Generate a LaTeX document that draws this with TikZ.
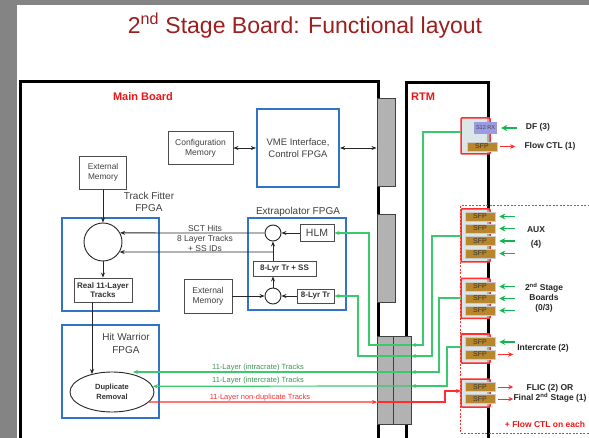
\documentclass[tikz,border=0pt]{standalone}
\usepackage{fontspec}
\setmainfont{Liberation Sans}
\usetikzlibrary{arrows.meta,shapes.geometric,calc}
\definecolor{bgg}{RGB}{132,132,132}
\definecolor{ttl}{RGB}{158,30,30}
\definecolor{rlab}{RGB}{240,20,20}
\definecolor{fblue}{RGB}{46,117,198}
\definecolor{gln}{RGB}{60,200,110}
\definecolor{gar}{RGB}{20,180,80}
\definecolor{gtx}{RGB}{60,150,85}
\definecolor{rln}{RGB}{255,45,45}
\definecolor{sfpc}{RGB}{184,134,45}
\definecolor{s12c}{RGB}{155,155,226}
\definecolor{grpf}{RGB}{212,224,224}
\definecolor{conn}{RGB}{178,178,178}
\definecolor{dtx}{RGB}{64,64,64}
\newcommand\fsz[2]{\fontsize{#1}{#2}\selectfont}
\tikzset{
  gbox/.style={draw=black!70, line width=0.9pt, fill=white, inner sep=0pt, align=center, text=dtx},
  fbox/.style={draw=fblue, line width=2.2pt, inner sep=0pt, align=center, text=dtx},
  ring/.style={circle, draw=black!85, line width=0.9pt, fill=white, inner sep=0pt},
  bbox/.style={gbox, font=\fsz{8}{9.5}\bfseries, text=black!80},
  connb/.style={draw=black!75, fill=conn, line width=1pt, inner sep=0pt},
  arr/.style={->, line width=0.8pt, draw=black!85},
  gl/.style={draw=gln, line width=1.2pt},
  rl/.style={draw=rln, line width=1.2pt},
  grp/.style={draw=rln, line width=1.5pt, fill=grpf, fill opacity=0.8, rounded corners=1pt, inner sep=0pt, minimum width=29pt},
  sfp/.style={fill=sfpc, draw=black!20, line width=0.6pt, minimum width=30pt, minimum height=9pt, inner sep=0pt, font=\fsz{7}{8}, text=black!80},
  garr/.style={-{Stealth[length=6pt,width=6pt]}, line width=1.6pt, draw=gar},
  rarr/.style={-{Stealth[length=5pt,width=4.5pt]}, line width=0.9pt, draw=rln},
  rtlab/.style={font=\fsz{8.5}{10}\bfseries, text=black!85, align=center},
}
\begin{document}
\begin{tikzpicture}[x=1pt,y=-1pt,>={Stealth[length=5pt,width=4pt]}]
\fill[bgg] (0,0) rectangle (589,438);
\fill[white] (17,5) rectangle (589,438);
\useasboundingbox (0,0) rectangle (589,438);
\clip (0,0) rectangle (589,438);

% title
\node[text=ttl, font=\fsz{23}{26}] (title) at (305,26) {2\textsuperscript{nd} Stage Board: Functional layout};

% boards
\draw[line width=3pt, line join=miter] (20,440) -- (20,81.5) -- (378,81.5) -- (378,440);
\draw[line width=3pt, line join=miter] (406,440) -- (406,82.5) -- (488,82.5) -- (488,440);
\node[font=\fsz{11}{13}\bfseries, text=rlab] (mb) at (143,97) {Main Board};
\node[font=\fsz{11}{13}\bfseries, text=rlab] (rtm) at (423,97) {RTM};

% backplane connectors
\node[connb, minimum width=18pt, minimum height=88pt] (b1) at (386,143) {};
\node[connb, minimum width=18pt, minimum height=88pt] (b2) at (386,259) {};
\node[connb, minimum width=34pt, minimum height=88pt] (b3) at (394,380) {};
\draw[draw=black!75, line width=1pt] ($(b3.north)+(-1,0)$) -- ($(b3.south)+(-1,0)$);

% config + VME
\node[gbox, minimum width=65pt, minimum height=33pt, font=\fsz{8.5}{10}] (cfg) at (200.5,148) {Configuration\\Memory};
\node[fbox, minimum width=82pt, minimum height=78pt, font=\fsz{9.5}{11.5}] (vme) at (298,148) {VME Interface,\\Control FPGA};
\draw[arr,<->] (cfg) -- (vme);
\draw[arr,<->] (vme.east) -- (vme.east -| b1.west);

% track fitter
\node[gbox, minimum width=47pt, minimum height=33pt, font=\fsz{8.3}{10}] (em1) at (103,172.5) {External\\Memory};
\node[font=\fsz{10}{12}, text=dtx, align=center] (tfl) at (149,202) {Track Fitter\\FPGA};
\node[fbox, minimum width=97pt, minimum height=93pt] (tf) at (110.5,264.5) {};
\node[ring, minimum size=38pt] (tfc) at (103,242) {};
\node[bbox, minimum width=58pt, minimum height=24pt] (real) at (103,290) {Real 11-Layer\\Tracks};
\draw[arr] (em1) -- (tfc);
\draw[arr] (tfc) -- (real);

% extrapolator
\node[fbox, minimum width=98pt, minimum height=92pt] (ext) at (297,264) {};
\node[anchor=south, font=\fsz{10}{12}, text=dtx, inner sep=0pt] (extl) at (298,216.5) {Extrapolator FPGA};
\node[ring, minimum size=16pt] (c1) at (273,233) {};
\node[ring, minimum size=16pt] (c2) at (273,296) {};
\node[gbox, minimum width=34pt, minimum height=17pt, font=\fsz{10.5}{12}] (hlm) at (317,233) {HLM};
\node[bbox, minimum width=63pt, minimum height=15pt] (ss) at (284.5,268.5) {8-Lyr Tr + SS};
\node[bbox, minimum width=37pt, minimum height=14pt] (l8) at (315.5,296) {8-Lyr Tr};
\node[gbox, minimum width=48pt, minimum height=34pt, font=\fsz{8.5}{10}] (em2) at (208,296) {External\\Memory};
\draw[arr] (hlm) -- (c1);
\draw[arr] (l8) -- (c2);
\draw[arr] (em2) -- (c2);
\draw[arr] (c2.north) -- (c2.north |- ss.south);
\draw[arr] (ss.north -| c1.south) -- (c1.south);
\coordinate (jn) at (273,252);
\draw[arr] (c1.west) -- (tfc.28.3);
\draw[arr] (jn) -- (tfc.-31.8);
\node[font=\fsz{8.5}{10}, text=dtx, align=center] (sct) at (205,238) {SCT Hits\\8 Layer Tracks\\+ SS IDs};

% hit warrior
\node[fbox, minimum width=97pt, minimum height=93pt] (hw) at (110.5,371.5) {};
\node[font=\fsz{10}{12.5}, text=dtx, align=center] (hwl) at (126,343.5) {Hit Warrior\\FPGA};
\node[ellipse, draw=black!85, line width=0.9pt, fill=white, minimum width=84pt, minimum height=40pt, inner sep=0pt, font=\fsz{7.5}{10}\bfseries, text=black!80, align=center] (dup) at (112,392) {Duplicate\\Removal};
\coordinate (hwin) at (92,374);
\draw[arr] (real.south -| hwin) -- (hwin);

% RTM groups
\node[grp, minimum height=36pt] (df) at (475.5,136) {};
\node[fill=s12c, minimum width=23pt, minimum height=12pt, inner sep=0pt, font=\fsz{5.5}{6}, text=dtx] (s12) at (485.5,128) {S12 RX};
\node[sfp] (dfs) at (482,146.5) {SFP};

\node[grp, minimum height=53pt] (aux) at (475.5,235.5) {};
\node[sfp] (a1) at (480,216.5) {SFP};
\node[sfp] (a2) at (480,228.5) {SFP};
\node[sfp] (a3) at (480,241) {SFP};
\node[sfp] (a4) at (480,253.5) {SFP};

\node[grp, minimum height=40pt] (sec) at (475.5,298.5) {};
\node[sfp] (s1) at (480,286.5) {SFP};
\node[sfp] (s2) at (480,298.5) {SFP};
\node[sfp] (s3) at (480,310.5) {SFP};

\node[grp, minimum height=29pt] (ic) at (475.5,348.5) {};
\node[sfp] (i1) at (480,342) {SFP};
\node[sfp] (i2) at (480,354.5) {SFP};

\node[grp, minimum height=28pt] (fl) at (475.5,393) {};
\node[sfp] (f1) at (480,387) {SFP};
\node[sfp] (f2) at (480,399) {SFP};

\draw[draw=rln, line width=1pt, dash pattern=on 2pt off 1.5pt] (600,206) -- (460,206) -- (460,433) -- (600,433);

% external arrows
\draw[garr, line width=2.4pt] ($(s12.east)+(20,0)$) -- ($(s12.east)+(4,0)$);
\draw[rarr] ($(dfs.east)+(3,0)$) -- ($(dfs.east)+(18,0)$);
\foreach \n in {a1,a2,a3,a4,s1,s2,s3,i1}
  \draw[garr] ($(\n.east)+(20,0)$) -- ($(\n.east)+(4,0)$);
\foreach \n in {i2,f1,f2}
  \draw[rarr] ($(\n.east)+(3,0)$) -- ($(\n.east)+(18,0)$);

\node[rtlab] (dfl) at (538,127) {DF (3)};
\node[rtlab] (fcl) at (550,146) {Flow CTL (1)};
\node[rtlab] (auxl) at (536,237.5) {AUX\\[4.5pt](4)};
\node[rtlab] (secl) at (544,297.5) {2\textsuperscript{nd} Stage\\Boards\\(0/3)};
\node[rtlab] (icl) at (543,348) {Intercrate (2)};
\node[rtlab] (fll) at (550,393) {FLIC (2) OR\\Final 2\textsuperscript{nd} Stage (1)};
\node[font=\fsz{8.5}{10}\bfseries, text=rlab] (fce) at (545,424) {+ Flow CTL on each};

% green links RTM -> main board
\coordinate (gA0) at (461,132);
\coordinate (gA1) at (411,345);
\draw[gl,->] (gA0) -- (423,132) -- (423,345) -- (gA1);
\draw[gl,->] (gA1) -- (369,345) -- (369,233) -- (hlm.east);

\coordinate (gB0) at (461,236);
\coordinate (gB1) at (411,356);
\draw[gl,->] (gB0) -- (432,236) -- (432,356) -- (gB1);
\draw[gl,->] (gB1) -- (358,356) -- (358,296) -- (l8.east);

\coordinate (gC0) at (461,298);
\coordinate (gC1) at (411,372);
\coordinate (gC2) at (133,372);
\draw[gl,->] (gC0) -- (439,298) -- (439,372) -- (gC1);
\draw[gl,->] (gC1) -- (gC2);

\coordinate (gD0) at (461,347);
\coordinate (gD1) at (411,386);
\draw[gl,->] (gD0) -- (447,347) -- (447,386) -- (gD1);
\draw[gl,->] (gD1) -- (dup.8.5);

% red link
\coordinate (rA1) at (377,402);
\coordinate (rA2) at (461,391);
\draw[rl,->] (dup.-15.4) -- (rA1);
\draw[rl,->] (rA1) -- (445,402) -- (445,391) -- (rA2);

\node[font=\fsz{7.5}{9}, text=gtx] (l1) at (258,367.5) {11-Layer (intracrate) Tracks};
\node[font=\fsz{7.5}{9}, text=gtx] (l2) at (258,381) {11-Layer (intercrate) Tracks};
\node[font=\fsz{7.5}{9}, text=rln] (l3) at (260,397.5) {11-Layer non-duplicate Tracks};
\end{tikzpicture}
\end{document}
